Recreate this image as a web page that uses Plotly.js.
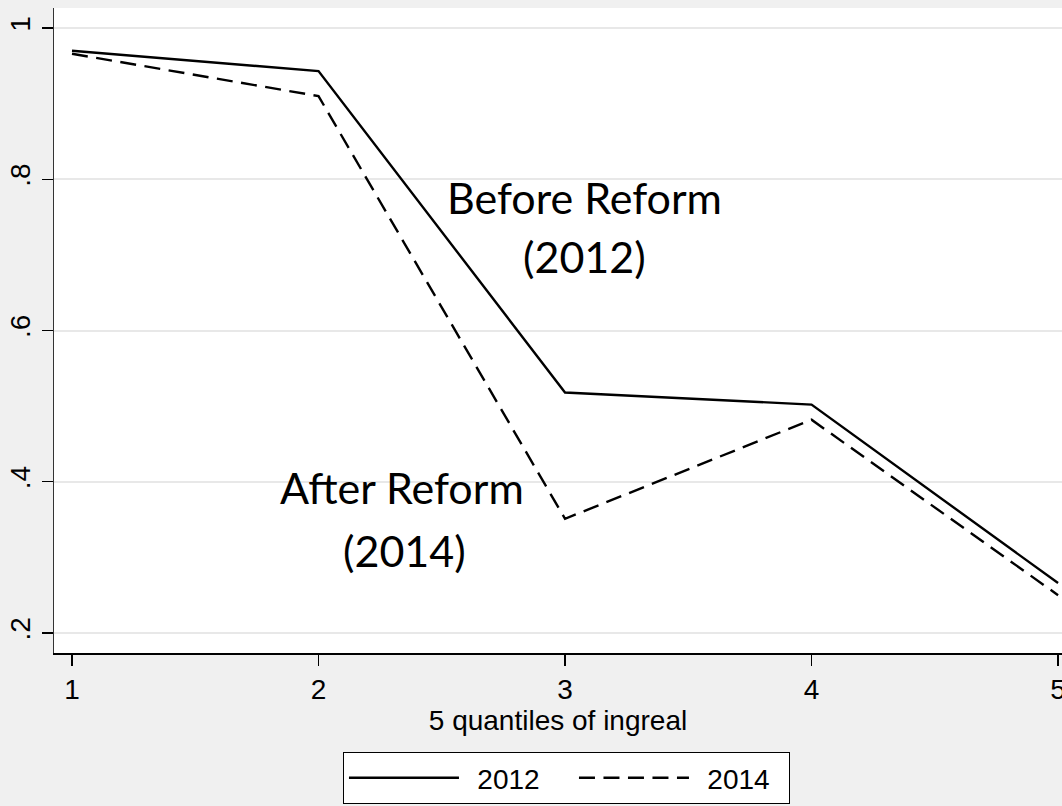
<!DOCTYPE html>
<html>
<head>
<meta charset="utf-8">
<script src="https://cdn.plot.ly/plotly-3.0.1.min.js"></script>
<style>html,body{margin:0;padding:0;background:#f0f0f0;}#chart{width:1062px;height:806px;}</style>
</head>
<body>
<div id="chart"></div>
<script>
const quantiles = [1, 2, 3, 4, 5];
const values2012 = [0.970, 0.943, 0.518, 0.502, 0.266];
const values2014 = [0.966, 0.910, 0.351, 0.482, 0.250];
const yTicks = [0.2, 0.4, 0.6, 0.8, 1];
const yTickLabels = ['.2', '.4', '.6', '.8', '1'];
const xTicks = [1, 2, 3, 4, 5];
const seriesNames = ['2012', '2014'];

const traces = [
  {x: quantiles, y: values2012, name: '\u00a0\u2009' + seriesNames[0], type: 'scatter', mode: 'lines',
   legendwidth: 105,
   line: {color: '#000000', width: 2.4}},
  {x: quantiles, y: values2014, name: '\u00a0\u2009' + seriesNames[1], type: 'scatter', mode: 'lines',
   legendwidth: 90,
   line: {color: '#000000', width: 2.4, dash: '16px,8.5px'}}
];

const annFont = {family: 'Lato, sans-serif', size: 43, color: '#000000'};

const layout = {
  width: 1062, height: 806,
  margin: {l: 54, r: 0, t: 8, b: 153, pad: 0},
  paper_bgcolor: '#f0f0f0',
  plot_bgcolor: '#ffffff',
  font: {family: 'Liberation Sans, Arial, sans-serif', color: '#000000', size: 28},
  showlegend: true,
  legend: {
    orientation: 'h', x: 0.5084, xanchor: 'center', y: -0.1535, yanchor: 'top',
    bgcolor: '#ffffff', bordercolor: '#000000', borderwidth: 1,
    font: {size: 28, family: 'Liberation Sans, Arial, sans-serif'},
    itemwidth: 110, entrywidth: 105, entrywidthmode: 'pixels', tracegroupgap: 0
  },
  xaxis: {
    range: [0.927, 5.016], tickvals: xTicks, ticktext: xTicks.map(String),
    showgrid: false, zeroline: false,
    showline: true, linecolor: '#000000', linewidth: 1.5,
    ticks: 'outside', ticklen: 11, tickwidth: 1.5, tickcolor: '#000000',
    tickfont: {size: 28}, ticklabeloverflow: 'allow',
    title: {text: '5 quantiles of ingreal', font: {size: 28}, standoff: 2}
  },
  yaxis: {
    range: [0.1735, 1.0265], tickvals: yTicks, ticktext: yTickLabels,
    tickangle: -90,
    showgrid: true, gridcolor: '#e8e8e8', gridwidth: 2, zeroline: false,
    showline: true, linecolor: '#333333', linewidth: 1.5,
    ticks: 'outside', ticklen: 11, tickwidth: 1.5, tickcolor: '#000000',
    tickfont: {size: 28}
  },
  annotations: [
    {x: 3.08, y: 0.776, xref: 'x', yref: 'y', text: 'Before Reform', showarrow: false, font: annFont},
    {x: 3.08, y: 0.698, xref: 'x', yref: 'y', text: '(2012)', showarrow: false, font: annFont},
    {x: 2.34, y: 0.393, xref: 'x', yref: 'y', text: 'After Reform', showarrow: false, font: annFont},
    {x: 2.35, y: 0.309, xref: 'x', yref: 'y', text: '(2014)', showarrow: false, font: annFont}
  ]
};

Plotly.newPlot('chart', traces, layout, {displayModeBar: false, staticPlot: true});
</script>
</body>
</html>
